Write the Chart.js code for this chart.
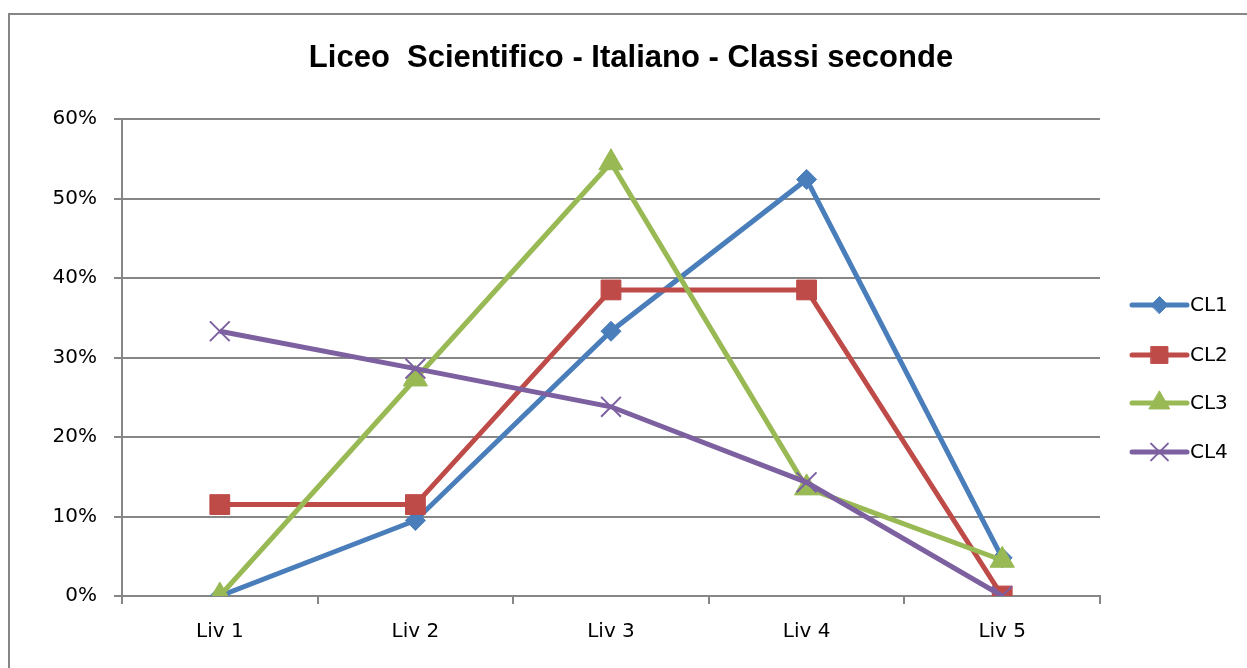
<!DOCTYPE html>
<html>
<head>
<meta charset="utf-8">
<script src="https://cdn.jsdelivr.net/npm/chart.js@4/dist/chart.umd.min.js"></script>
<style>
  html, body { margin: 0; padding: 0; background: #fff; }
  #wrap { width: 1247px; height: 668px; position: relative; }
</style>
</head>
<body>
<div id="wrap"><canvas id="chartLiv"></canvas></div>
<script>
// dati del grafico
const chartTitle = "Liceo  Scientifico - Italiano - Classi seconde";
const categories = ["Liv 1", "Liv 2", "Liv 3", "Liv 4", "Liv 5"];
const cl1 = [0, 9.5, 33.3, 52.4, 4.8];
const cl2 = [11.5, 11.5, 38.5, 38.5, 0];
const cl3 = [0, 27.3, 54.5, 13.6, 4.5];
const cl4 = [33.3, 28.6, 23.8, 14.3, 0];
const seriesNames = ["CL1", "CL2", "CL3", "CL4"];
const yTicks = [0, 10, 20, 30, 40, 50, 60];

const gray = "#868686";
const tickFont = { family: "DejaVu Sans", size: 20 };

const makeSet = (label, data, color, style, radius, order) => ({
    label: label,
    data: data,
    borderColor: color,
    backgroundColor: color,
    borderWidth: 5,
    pointStyle: style,
    pointRadius: radius,
    pointHoverRadius: radius,
    pointBorderWidth: style === "crossRot" ? 2 : 1,
    pointBorderColor: color,
    pointBackgroundColor: color,
    tension: 0,
    order: order
});

// bordo esterno e titolo
const frame = {
    id: "frame",
    beforeDraw(chart) {
        const ctx = chart.ctx;
        ctx.save();
        ctx.strokeStyle = gray;
        ctx.lineWidth = 2;
        ctx.beginPath();
        ctx.moveTo(9, 700);
        ctx.lineTo(9, 14);
        ctx.lineTo(1260, 14);
        ctx.stroke();
        ctx.fillStyle = "#000";
        ctx.font = "bold 31px 'Liberation Sans'";
        ctx.textAlign = "center";
        ctx.textBaseline = "middle";
        ctx.fillText(chartTitle, 631, 58);
        ctx.restore();
    }
};

// legenda con linea e marcatore
const lineLegend = {
    id: "lineLegend",
    afterDraw(chart) {
        const ctx = chart.ctx;
        const x0 = 1132, x1 = 1187;
        const ys = [305, 355, 403, 452];
        ctx.save();
        chart.data.datasets.forEach((ds, i) => {
            const y = ys[i];
            ctx.strokeStyle = ds.borderColor;
            ctx.lineWidth = ds.borderWidth;
            ctx.lineCap = "round";
            ctx.beginPath();
            ctx.moveTo(x0, y);
            ctx.lineTo(x1, y);
            ctx.stroke();
            ctx.fillStyle = ds.backgroundColor;
            ctx.lineWidth = ds.pointBorderWidth;
            Chart.helpers.drawPoint(ctx, {
                pointStyle: ds.pointStyle,
                radius: ds.pointRadius * 0.85,
                borderWidth: ds.pointBorderWidth,
                rotation: 0
            }, (x0 + x1) / 2, y);
            ctx.fillStyle = "#000";
            ctx.font = "20px 'DejaVu Sans'";
            ctx.textBaseline = "middle";
            ctx.textAlign = "left";
            ctx.fillText(ds.label, 1190, y + 1);
        });
        ctx.restore();
    }
};

new Chart(document.getElementById("chartLiv"), {
    type: "line",
    data: {
        labels: categories,
        datasets: [
            makeSet(seriesNames[0], cl1, "#4A7EBB", "rectRot", 10, 4),
            makeSet(seriesNames[1], cl2, "#BE4B48", "rect", 14, 3),
            makeSet(seriesNames[2], cl3, "#98B954", "triangle", 14, 2),
            makeSet(seriesNames[3], cl4, "#7D60A0", "crossRot", 14, 1)
        ]
    },
    options: {
        responsive: true,
        maintainAspectRatio: false,
        animation: false,
        layout: { padding: { top: 119, right: 147, bottom: 0, left: 0 } },
        plugins: {
            legend: { display: false },
            tooltip: { enabled: false },
            title: { display: false }
        },
        scales: {
            x: {
                offset: true,
                grid: { offset: true, drawOnChartArea: false, color: gray, lineWidth: 2, tickLength: 8 },
                border: { color: gray, width: 2 },
                ticks: { color: "#000", font: tickFont, padding: 16 },
                afterFit(scale) { scale.height = 72; }
            },
            y: {
                min: 0,
                max: 60,
                afterBuildTicks(scale) { scale.ticks = yTicks.map(v => ({ value: v })); },
                grid: { color: gray, lineWidth: 2, tickLength: 8 },
                border: { color: gray, width: 2 },
                ticks: { color: "#000", font: tickFont, padding: 17, callback: v => v + "%" },
                afterFit(scale) { scale.width = 122; }
            }
        }
    },
    plugins: [frame, lineLegend]
});
</script>
</body>
</html>
